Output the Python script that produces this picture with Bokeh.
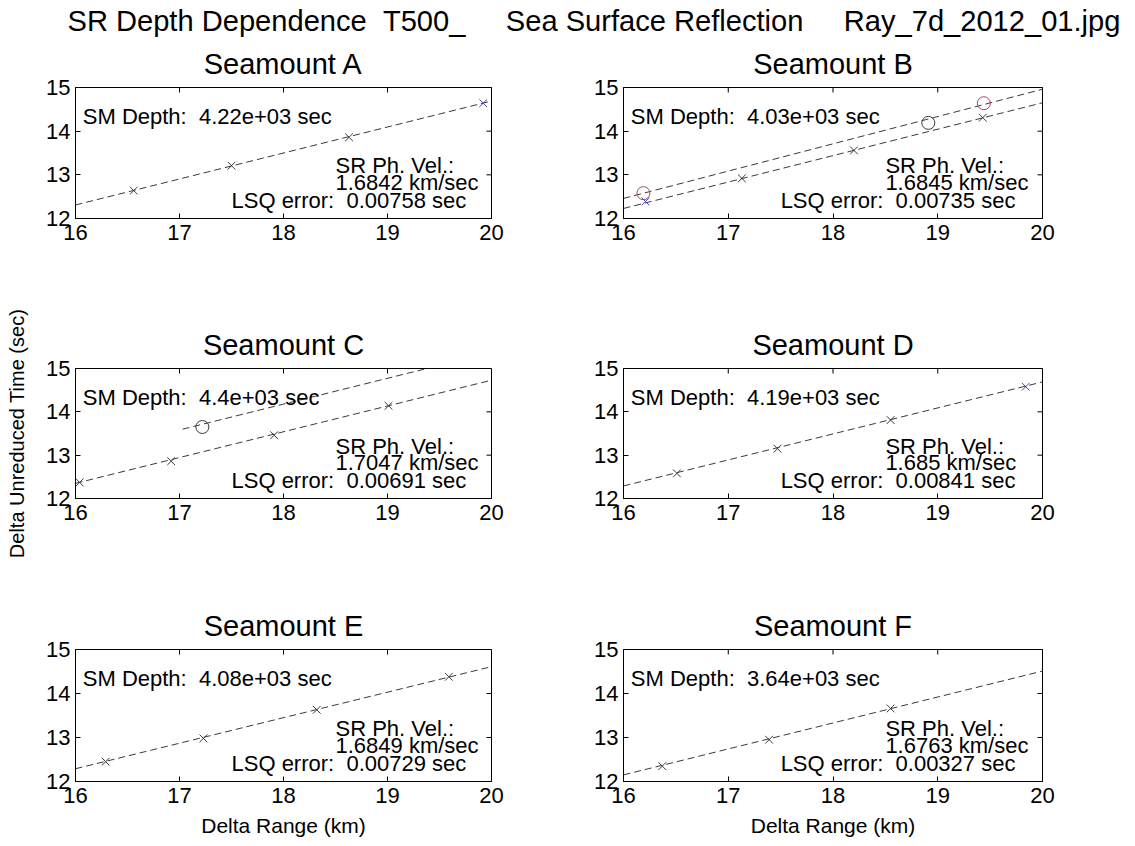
import math
from bokeh.plotting import figure
from bokeh.models import Label, FixedTicker, Range1d
from bokeh.layouts import column, row
from bokeh.embed import file_html
from bokeh.resources import INLINE

FONT = "Liberation Sans"

# ---------------- data ----------------
main_title = "SR Depth Dependence  T500_     Sea Surface Reflection     Ray_7d_2012_01.jpg"
panel_names = ["Seamount A", "Seamount B", "Seamount C", "Seamount D", "Seamount E", "Seamount F"]
x_ticks = [16, 17, 18, 19, 20]
y_ticks = [12, 13, 14, 15]
x_label = "Delta Range (km)"
y_label = "Delta Unreduced Time (sec)"

sm_depth = [4220, 4030, 4400, 4190, 4080, 3640]
sr_vel = [1.6842, 1.6845, 1.7047, 1.685, 1.6849, 1.6763]
lsq_err = [0.00758, 0.00735, 0.00691, 0.00841, 0.00729, 0.00327]

a_cross_x = [16.56, 17.50, 18.63, 19.92]
a_cross_y = [12.64, 13.21, 13.86, 14.64]
a_fit_x = [16.0, 20.0]
a_fit_y = [12.31, 14.69]

b_cross_x = [16.21, 17.13, 18.20, 19.43]
b_cross_y = [12.39, 12.92, 13.56, 14.31]
b_fit_x = [16.0, 20.0]
b_fit_y = [12.23, 14.65]
b_circ_x = [16.19, 18.91, 19.44]
b_circ_y = [12.58, 14.19, 14.64]
b_cfit_x = [16.0, 20.0]
b_cfit_y = [12.46, 14.96]

c_cross_x = [16.04, 16.92, 17.91, 19.01]
c_cross_y = [12.37, 12.86, 13.46, 14.14]
c_fit_x = [16.0, 20.0]
c_fit_y = [12.35, 14.73]
c_circ_x = [17.22]
c_circ_y = [13.65]
c_cfit_x = [17.03, 20.0]
c_cfit_y = [13.60, 15.37]

d_cross_x = [16.51, 17.47, 18.55, 19.84]
d_cross_y = [12.58, 13.15, 13.81, 14.58]
d_fit_x = [16.0, 20.0]
d_fit_y = [12.29, 14.69]

e_cross_x = [16.29, 17.23, 18.32, 19.59]
e_cross_y = [12.45, 12.98, 13.63, 14.38]
e_fit_x = [16.0, 20.0]
e_fit_y = [12.29, 14.61]

f_cross_x = [16.37, 17.39, 18.55]
f_cross_y = [12.35, 12.95, 13.66]
f_fit_x = [16.0, 20.0]
f_fit_y = [12.15, 14.51]

# ---------------- styles ----------------
GRAY = "#3a3a3a"
BLUE = "#4a4aa8"
RED = "#b04466"
cross_colors = {
    0: [GRAY, GRAY, GRAY, BLUE],
    1: [BLUE, GRAY, GRAY, GRAY],
    2: [GRAY] * 4,
    3: [GRAY, GRAY, GRAY, BLUE],
    4: [GRAY] * 4,
    5: [GRAY] * 3,
}
circ_colors = {1: [RED, GRAY, RED], 2: [GRAY]}

FRAME_W = [416, 419]
FRAME_H = [131, 130, 132]
BORDER_L = [75, 63]
BORDER_R = [69, 85]
ROW_TOP = [48, 67, 48]
ROW_BOTTOM = [83, 102, 65]


def keep_spaces(s):
    # SVG collapses runs of spaces; alternate with no-break spaces
    return s.replace("  ", " \u00a0")


def style_axis(ax, ticks):
    ax.ticker = FixedTicker(ticks=ticks)
    ax.major_tick_in = 5
    ax.major_tick_out = 0
    ax.minor_tick_in = 0
    ax.minor_tick_out = 0
    ax.axis_line_color = "black"
    ax.major_tick_line_color = "black"
    ax.major_label_text_font = FONT
    ax.major_label_text_font_size = "22px"
    ax.major_label_text_color = "black"


def make_panel(i, cross_x, cross_y, fit_x, fit_y, circ_x=None, circ_y=None,
               cfit_x=None, cfit_y=None):
    col = i % 2
    r = i // 2
    p = figure(frame_width=FRAME_W[col], frame_height=FRAME_H[r],
               x_range=Range1d(16, 20), y_range=Range1d(12, 15),
               toolbar_location=None, output_backend="svg",
               min_border_left=BORDER_L[col], min_border_right=BORDER_R[col],
               min_border_top=ROW_TOP[r], min_border_bottom=ROW_BOTTOM[r])
    p.title.text = panel_names[i]
    p.title.align = "center"
    p.title.offset = -4
    p.title.text_font = FONT
    p.title.text_font_size = "29px"
    p.title.text_font_style = "normal"
    p.title.text_color = "black"
    p.title.standoff = 15
    p.outline_line_color = "black"
    p.outline_line_alpha = 1.0
    p.grid.visible = False
    p.background_fill_color = "white"
    p.border_fill_color = "white"

    xb = p.below[0]
    yl = p.left[0]
    style_axis(xb, x_ticks)
    style_axis(yl, y_ticks)
    xb.major_label_standoff = 6
    yl.major_label_standoff = 5

    # inward ticks on the top and right edges (half of each dash is clipped)
    p.scatter(x_ticks, [15] * len(x_ticks), marker="dash", size=10, angle=math.pi / 2,
              line_color="black", line_width=1)
    p.scatter([20] * len(y_ticks), y_ticks, marker="dash", size=10,
              line_color="black", line_width=1)

    if r == 2:
        xb.axis_label = x_label
        xb.axis_label_text_font = FONT
        xb.axis_label_text_font_size = "21px"
        xb.axis_label_text_font_style = "normal"
        xb.axis_label_text_color = "black"
        xb.axis_label_standoff = 8
    if i == 2:
        yl.axis_label = y_label
        yl.axis_label_text_font = FONT
        yl.axis_label_text_font_size = "20px"
        yl.axis_label_text_font_style = "normal"
        yl.axis_label_text_color = "black"
        yl.axis_label_standoff = 15

    p.line(fit_x, fit_y, line_color=GRAY, line_width=1, line_dash="7 4")
    if cfit_x is not None:
        p.line(cfit_x, cfit_y, line_color=GRAY, line_width=1, line_dash="7 4")
    p.scatter(cross_x, cross_y, marker="x", size=11, line_width=1,
              line_color=cross_colors[i])
    if circ_x is not None:
        p.scatter(circ_x, circ_y, marker="circle", size=13, line_width=1,
                  fill_color=None, line_color=circ_colors[i])

    common = dict(text_font=FONT, text_font_size="22px", text_color="black",
                  text_baseline="alphabetic")
    p.add_layout(Label(x=16.07, y=14.33,
                       text=keep_spaces("SM Depth:  " + format(sm_depth[i], ".3g") + " sec"),
                       **common))
    p.add_layout(Label(x=18.5, y=13.21, text="SR Ph. Vel.:", **common))
    p.add_layout(Label(x=18.5, y=12.82,
                       text=format(sr_vel[i], ".5g") + " km/sec", **common))
    p.add_layout(Label(x=17.5, y=12.41,
                       text=keep_spaces("LSQ error:  " + format(lsq_err[i], ".3g") + " sec"),
                       **common))
    return p


panels = [
    make_panel(0, a_cross_x, a_cross_y, a_fit_x, a_fit_y),
    make_panel(1, b_cross_x, b_cross_y, b_fit_x, b_fit_y, b_circ_x, b_circ_y, b_cfit_x, b_cfit_y),
    make_panel(2, c_cross_x, c_cross_y, c_fit_x, c_fit_y, c_circ_x, c_circ_y, c_cfit_x, c_cfit_y),
    make_panel(3, d_cross_x, d_cross_y, d_fit_x, d_fit_y),
    make_panel(4, e_cross_x, e_cross_y, e_fit_x, e_fit_y),
    make_panel(5, f_cross_x, f_cross_y, f_fit_x, f_fit_y),
]

tfig = figure(width=1133, height=38, toolbar_location=None, output_backend="svg",
              x_axis_location=None, y_axis_location=None,
              min_border_left=0, min_border_right=0, min_border_top=36, min_border_bottom=0)
tfig.outline_line_color = None
tfig.grid.visible = False
tfig.title.text = keep_spaces(main_title)
tfig.title.align = "left"
tfig.title.offset = 67
tfig.title.text_font = FONT
tfig.title.text_font_size = "29.1px"
tfig.title.text_font_style = "normal"
tfig.title.text_color = "black"
tfig.title.standoff = 0

layout = column(tfig, row(panels[0], panels[1]), row(panels[2], panels[3]),
                row(panels[4], panels[5]))

open("out.html", "w").write(file_html(layout, INLINE))
